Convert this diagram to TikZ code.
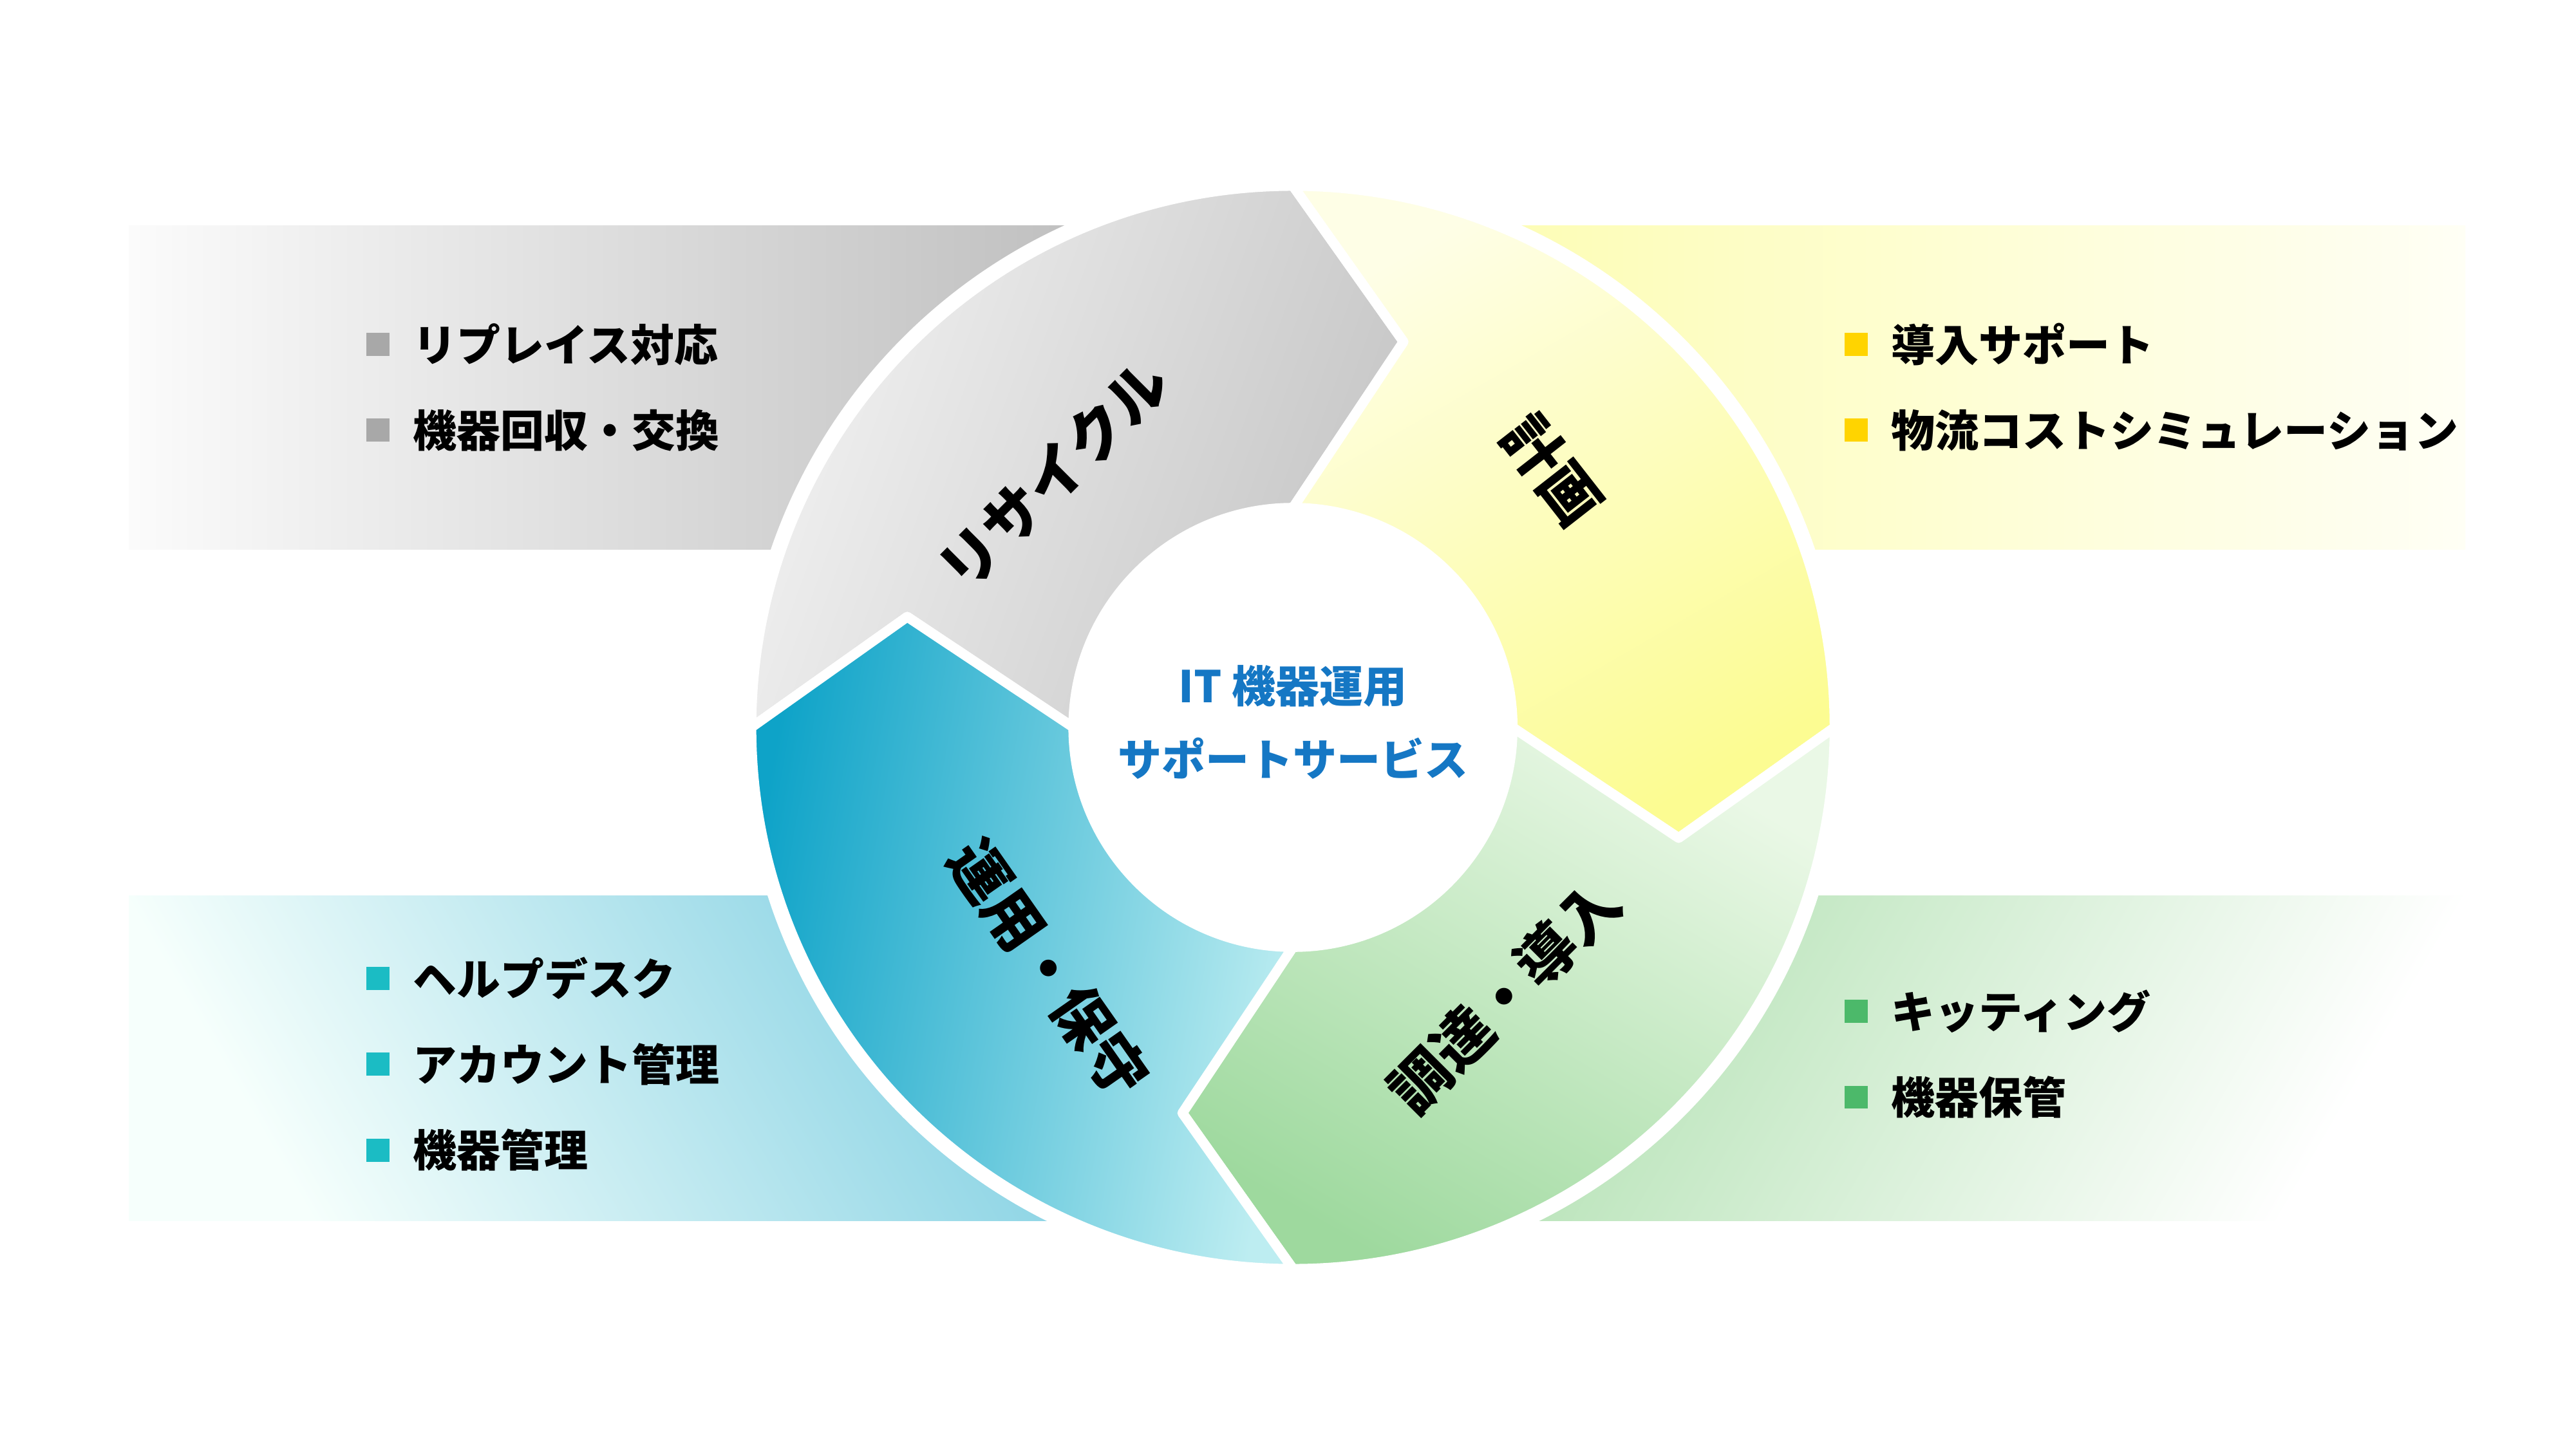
\documentclass[tikz,border=0pt]{standalone}
\usepackage{fontspec}
\newfontfamily\jp{Noto Sans CJK JP}
\definecolor{gA}{HTML}{F1F1F1}\definecolor{gB}{HTML}{C6C6C6}
\definecolor{yA}{HTML}{FEFEE6}\definecolor{yB}{HTML}{FCFC92}
\definecolor{grA}{HTML}{EAF8E6}\definecolor{grB}{HTML}{9ED99E}
\definecolor{tA}{HTML}{BDEDF1}\definecolor{tB}{HTML}{0EA3C8}
\definecolor{mint}{HTML}{E2FAF4}\definecolor{mintw}{HTML}{F6FFFC}
\definecolor{blu}{HTML}{1577C4}
\definecolor{sqg}{HTML}{A8A8A8}\definecolor{sqy}{HTML}{FFD400}
\definecolor{sqt}{HTML}{1BBCC4}\definecolor{sqgr}{HTML}{4CB96A}
\tikzset{
 item/.style={anchor=west,font=\jp\bfseries\fontsize{26.5}{30}\selectfont,inner sep=0},
 seglbl/.style={font=\jp\bfseries\fontsize{36}{42}\selectfont,inner sep=0},
 ctr/.style={font=\jp\bfseries\fontsize{26.5}{30}\selectfont,text=blu,inner sep=0},
 seg/.style={draw=white,line width=6pt,line join=round},
}
\newcommand{\segpath}[2]{(#1:328) arc[start angle=#1,end angle=#2,radius=328] -- (#2-16:243) -- (#2:133) arc[start angle=#2,end angle=#1,radius=133] -- (#1-16:243) -- cycle}
\begin{document}
\begin{tikzpicture}[x=1pt,y=1pt]
\useasboundingbox (0,0) rectangle (1560,877.6);
\fill[white] (0,0) rectangle (1560,877.6);
% bands
\path[left color=gray!3,right color=gB!90!black] (78,741) rectangle (783,545);
\path[left color=yB!80,right color=yA!40] (783,741) rectangle (1493,545);
\path[left color=mintw,middle color=mint,right color=tB!60,shading angle=120] (78,335) rectangle (783,138);
\path[left color=grB!90,middle color=grA!60,right color=white,shading angle=60] (783,335) rectangle (1493,138);
\begin{scope}[shift={(783,437)}]
\fill[white] (0,0) circle (334);
\path[seg,left color=gA,right color=gB,shading angle=70] \segpath{180}{90};
\path[seg,top color=yA,bottom color=yB,shading angle=30] \segpath{90}{0};
\path[seg,top color=grA,bottom color=grB,shading angle=-30] \segpath{0}{-90};
\path[seg,left color=tB,right color=tA,shading angle=80] \segpath{-90}{-180};
\fill[white] (0,0) circle (133);
\node[ctr] (c1) at (0,25) {IT 機器運用};
\node[ctr] (c2) at (0,-19) {サポートサービス};
\node[seglbl,rotate=45] (s1) at (-145,153) {リサイクル};
\node[seglbl,rotate=-52] (s2) at (157,156) {計画};
\node[seglbl,rotate=45] (s3) at (128,-163) {調達・導入};
\node[seglbl,rotate=-55] (s4) at (-148,-146) {運用・保守};
\end{scope}
% items
\foreach \y/\t [count=\i] in {669/リプレイス対応,617/機器回収・交換}{
 \fill[sqg] (222,\y-7) rectangle (236,\y+7);
 \node[item] (g\i) at (250,\y) {\t};}
\foreach \y/\t [count=\i] in {669/導入サポート,617/物流コストシミュレーション}{
 \fill[sqy] (1117,\y-7) rectangle (1131,\y+7);
 \node[item] (y\i) at (1145,\y) {\t};}
\foreach \y/\t [count=\i] in {285/ヘルプデスク,233/アカウント管理,181/機器管理}{
 \fill[sqt] (222,\y-7) rectangle (236,\y+7);
 \node[item] (t\i) at (250,\y) {\t};}
\foreach \y/\t [count=\i] in {265/キッティング,213/機器保管}{
 \fill[sqgr] (1117,\y-7) rectangle (1131,\y+7);
 \node[item] (n\i) at (1145,\y) {\t};}
\end{tikzpicture}
\end{document}
